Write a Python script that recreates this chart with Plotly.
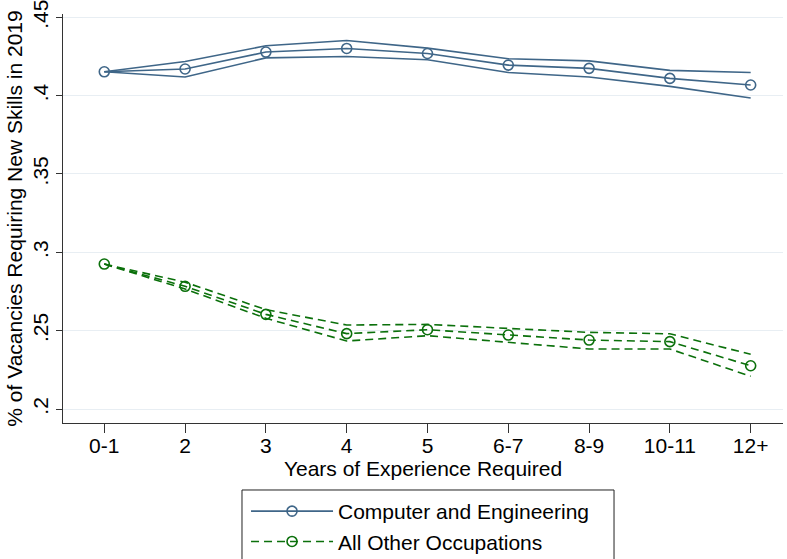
import plotly.graph_objects as go

# Experience categories
categories = ["0-1", "2", "3", "4", "5", "6-7", "8-9", "10-11", "12+"]

# Computer and Engineering: point estimate and 95% band
comp_mean = [0.4152, 0.4170, 0.4278, 0.4301, 0.4269, 0.4195, 0.4174, 0.4110, 0.4068]
comp_upper = [0.4152, 0.4218, 0.4318, 0.4352, 0.4303, 0.4235, 0.4222, 0.4161, 0.4148]
comp_lower = [0.4152, 0.4119, 0.4241, 0.4250, 0.4229, 0.4148, 0.4119, 0.4059, 0.3985]

# All Other Occupations: point estimate and 95% band
other_mean = [0.2925, 0.2783, 0.2604, 0.2481, 0.2506, 0.2472, 0.2440, 0.2430, 0.2276]
other_upper = [0.2925, 0.2809, 0.2634, 0.2536, 0.2540, 0.2515, 0.2489, 0.2480, 0.2349]
other_lower = [0.2925, 0.2766, 0.2579, 0.2434, 0.2468, 0.2426, 0.2383, 0.2383, 0.2209]

y_ticks = [0.2, 0.25, 0.3, 0.35, 0.4, 0.45]
y_tick_text = [".2", ".25", ".3", ".35", ".4", ".45"]

BLUE = "#3f6688"
GREEN = "#0b700b"
FONT = "Liberation Sans, Arial, sans-serif"
FS = 21

x = list(range(len(categories)))

fig = go.Figure()

for band in (comp_upper, comp_lower):
    fig.add_trace(go.Scatter(
        x=x, y=band, mode="lines", showlegend=False, hoverinfo="skip",
        line=dict(color=BLUE, width=1.6)))
fig.add_trace(go.Scatter(
    x=x, y=comp_mean, mode="lines+markers", name="Computer and Engineering",
    line=dict(color=BLUE, width=1.6),
    marker=dict(symbol="circle-open", size=10, color=BLUE, line=dict(width=1.6))))

for band in (other_upper, other_lower):
    fig.add_trace(go.Scatter(
        x=x, y=band, mode="lines", showlegend=False, hoverinfo="skip",
        line=dict(color=GREEN, width=1.6, dash="8px,5px")))
fig.add_trace(go.Scatter(
    x=x, y=other_mean, mode="lines+markers", name="All Other Occupations",
    line=dict(color=GREEN, width=1.6, dash="8px,5px"),
    marker=dict(symbol="circle-open", size=10, color=GREEN, line=dict(width=1.6))))

# Legend frame, running off the bottom edge of the page
fig.add_shape(
    type="rect", xref="paper", yref="paper",
    x0=0.2486, x1=0.7653, y0=-0.1638, y1=-0.40,
    line=dict(color="#222222", width=1), fillcolor="white", layer="below")

fig.update_layout(
    width=787, height=559,
    margin=dict(l=63, r=4, t=14, b=136, autoexpand=False),
    paper_bgcolor="white", plot_bgcolor="rgba(0,0,0,0)",
    font=dict(family=FONT, size=FS, color="black"),
    xaxis=dict(
        range=[-0.511, 8.40], tickmode="array", tickvals=x, ticktext=categories,
        showgrid=False, zeroline=False,
        showline=True, linecolor="#333333", linewidth=1.2,
        ticks="outside", ticklen=9, tickcolor="#333333", tickwidth=1.2,
        tickfont=dict(size=FS), ticklabelstandoff=-5,
        title=dict(text="Years of Experience Required", font=dict(size=FS), standoff=0),
    ),
    yaxis=dict(
        range=[0.19107, 0.4521], tickmode="array", tickvals=y_ticks, ticktext=y_tick_text,
        showgrid=True, gridcolor="#e8eef3", gridwidth=1.2, zeroline=False,
        showline=True, linecolor="#333333", linewidth=1.2,
        ticks="outside", ticklen=6, tickcolor="#333333", tickwidth=1.2,
        tickangle=-90, tickfont=dict(size=FS), ticklabeloverflow="allow",
        title=dict(text="% of Vacancies Requiring New Skills in 2019", font=dict(size=FS), standoff=0),
    ),
    legend=dict(
        x=0.2542, y=-0.1663, xanchor="left", yanchor="top",
        bgcolor="rgba(0,0,0,0)", borderwidth=0,
        font=dict(size=FS), itemwidth=82, tracegroupgap=0,
    ),
)

fig.write_html("out.html")
